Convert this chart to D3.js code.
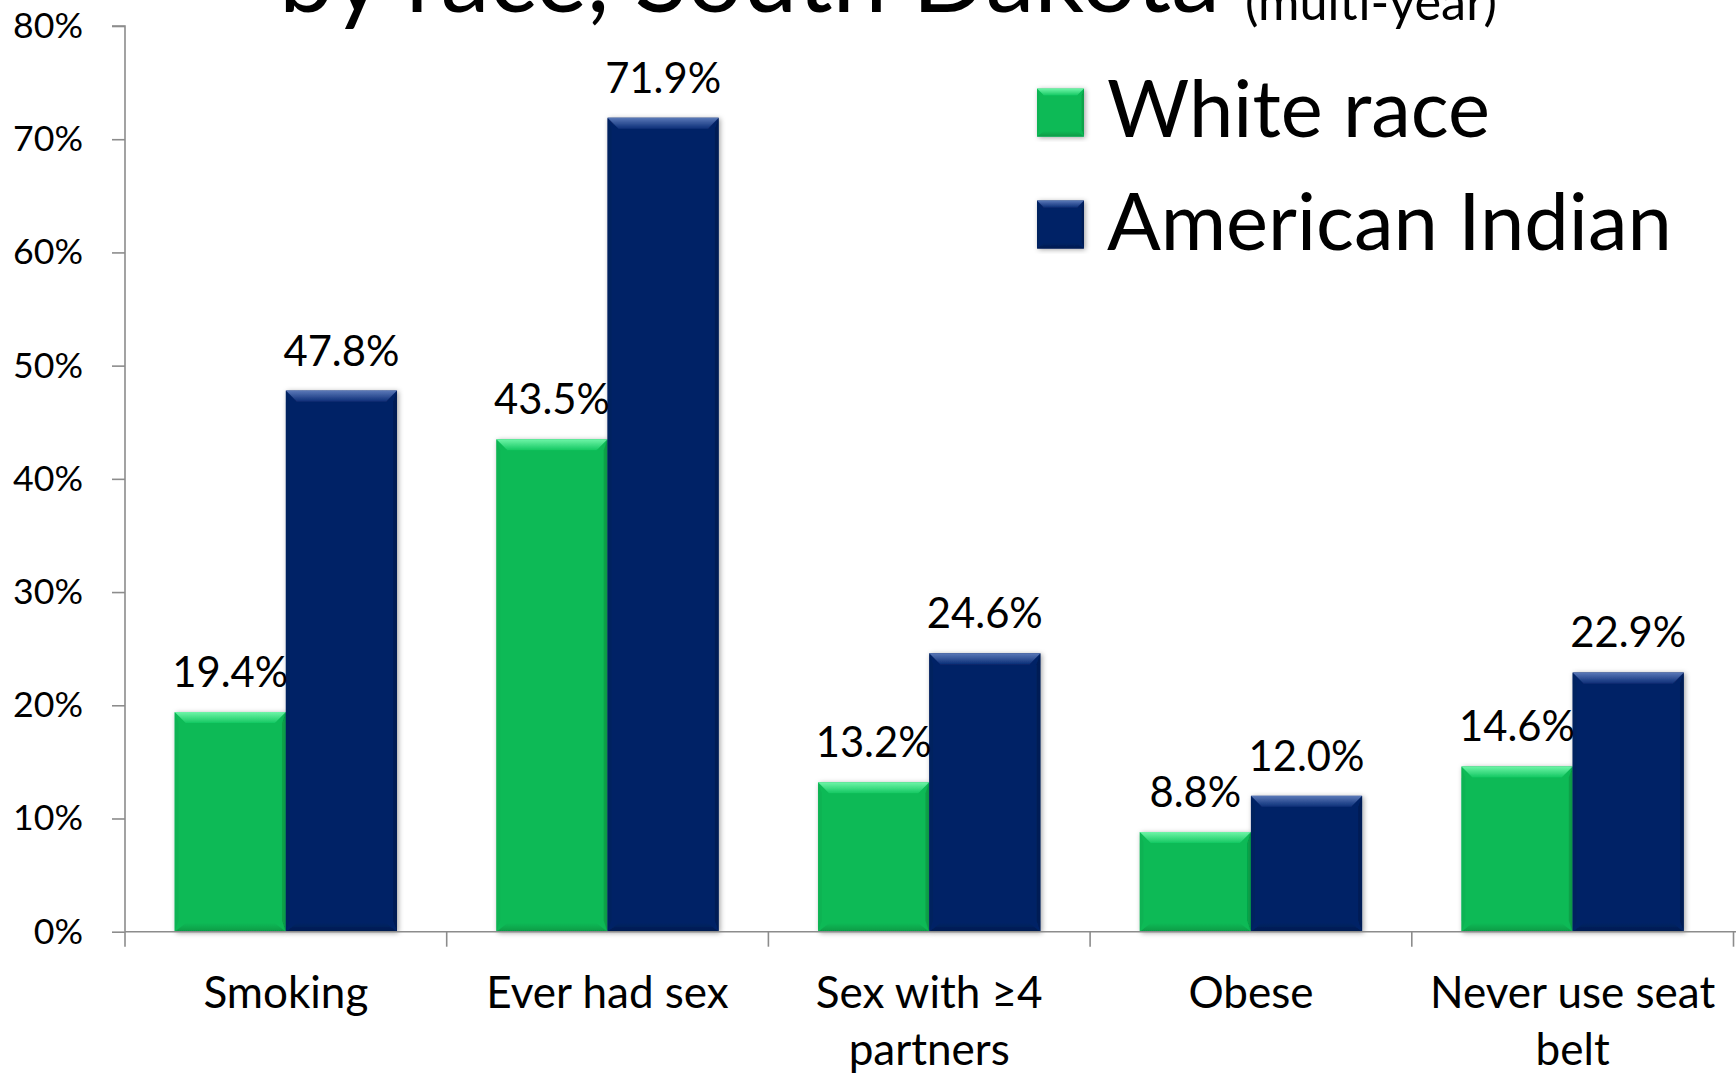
<!DOCTYPE html>
<html><head><meta charset="utf-8">
<script src="https://cdn.jsdelivr.net/npm/d3@7"></script>
<style>
body{margin:0;background:#fff;}
svg{display:block;}
text{font-family:Lato,"Open Sans",sans-serif;fill:#000;}
</style>
</head><body>
<svg id="chart" width="1736" height="1076"></svg>
<script>
// ---------- data ----------
const categories = ["Smoking", "Ever had sex", "Sex with ≥4 partners", "Obese", "Never use seat belt"];
const categoryLines = [["Smoking"], ["Ever had sex"], ["Sex with ≥4", "partners"], ["Obese"], ["Never use seat", "belt"]];
const seriesNames = ["White race", "American Indian"];
const whiteRace = [19.4, 43.5, 13.2, 8.8, 14.6];
const americanIndian = [47.8, 71.9, 24.6, 12.0, 22.9];
const yTicks = [0, 10, 20, 30, 40, 50, 60, 70, 80];
const titleText = "by race, South Dakota";
const subtitleText = "(multi-year)";

// ---------- styles ----------
const palette = {
  "White race": {base: "#0aba56", hi: "#6ff5a8", mid: "#14c862", lo: "#069a46", side: "#0bb152"},
  "American Indian": {base: "#062466", hi: "#5b79b8", mid: "#0c2f78", lo: "#031a4e", side: "#05215d"}
};
const axisColor = "#8c8c8c";

const svg = d3.select("#chart");
const defs = svg.append("defs");

function fitSize(str, target) {
  const t = svg.append("text").attr("font-size", 100).text(str);
  const w = t.node().getComputedTextLength();
  t.remove();
  return 100 * target / w;
}

// gradients
seriesNames.forEach((s, i) => {
  const c = palette[s];
  const g = defs.append("linearGradient").attr("id", "top" + i).attr("x1", 0).attr("y1", 0).attr("x2", 0).attr("y2", 1);
  g.append("stop").attr("offset", 0).attr("stop-color", c.hi);
  g.append("stop").attr("offset", 1).attr("stop-color", c.mid);
  const gb = defs.append("linearGradient").attr("id", "bot" + i).attr("x1", 0).attr("y1", 0).attr("x2", 0).attr("y2", 1);
  gb.append("stop").attr("offset", 0).attr("stop-color", c.base);
  gb.append("stop").attr("offset", 1).attr("stop-color", c.lo);
});
const sh = defs.append("filter").attr("id", "shadow").attr("x", "-20%").attr("y", "-10%").attr("width", "140%").attr("height", "120%");
sh.append("feDropShadow").attr("dx", 1.5).attr("dy", 1).attr("stdDeviation", 2.5).attr("flood-color", "#000").attr("flood-opacity", 0.35);

// ---------- scales ----------
const x0 = d3.scaleBand().domain(categories).range([125, 1733.5]).paddingInner(0).paddingOuter(0);
const x1 = d3.scaleBand().domain(seriesNames).range([0, x0.bandwidth()]).paddingInner(0).paddingOuter(0.447);
const y = d3.scaleLinear().domain([0, 80]).range([931.7, 26]);

// ---------- bevel bar ----------
function bevelBar(g, x, yTop, w, h, si, b) {
  const c = palette[seriesNames[si]];
  const bb = Math.min(b, h / 2, w / 2);
  const gg = g.append("g").attr("filter", "url(#shadow)");
  gg.append("rect").attr("x", x).attr("y", yTop).attr("width", w).attr("height", h).attr("fill", c.base);
  gg.append("polygon").attr("points", [[x, yTop], [x + bb * 0.35, yTop + bb], [x + bb * 0.35, yTop + h - bb], [x, yTop + h]].join(" "))
    .attr("fill", c.side).attr("opacity", 0.8);
  gg.append("polygon").attr("points", [[x + w, yTop], [x + w - bb * 0.35, yTop + bb], [x + w - bb * 0.35, yTop + h - bb], [x + w, yTop + h]].join(" "))
    .attr("fill", c.lo).attr("opacity", 0.7);
  gg.append("polygon").attr("points", [[x, yTop + h], [x + w, yTop + h], [x + w - bb, yTop + h - bb * 0.8], [x + bb, yTop + h - bb * 0.8]].join(" "))
    .attr("fill", "url(#bot" + si + ")");
  gg.append("polygon").attr("points", [[x, yTop], [x + w, yTop], [x + w - bb, yTop + bb], [x + bb, yTop + bb]].join(" "))
    .attr("fill", "url(#top" + si + ")");
}

// ---------- title ----------
svg.append("text").attr("x", 279).attr("y", 12)
  .attr("font-size", fitSize(titleText, 941)).text(titleText);
svg.append("text").attr("x", 1245).attr("y", 20)
  .attr("font-size", fitSize(subtitleText, 252)).text(subtitleText);

// ---------- y axis ----------
const tickFont = fitSize("80%", 70);
const yAxis = svg.append("g").attr("transform", "translate(125,0)")
  .call(d3.axisLeft(y).tickValues(yTicks).tickSize(13).tickPadding(29).tickFormat(d => d + "%"));
yAxis.selectAll("path,line").attr("stroke", axisColor).attr("stroke-width", 1.6);
yAxis.select(".domain").attr("d", `M-13,${y(80)}H0V${y(0)}`);
yAxis.selectAll("text").attr("font-size", tickFont).attr("font-family", "Lato").attr("fill", "#000");

// ---------- bars ----------
const seriesValues = [whiteRace, americanIndian];
const barsG = svg.append("g");
categories.forEach((cat, ci) => {
  seriesNames.forEach((s, si) => {
    const v = seriesValues[si][ci];
    const bx = x0(cat) + x1(s);
    bevelBar(barsG, bx, y(v), x1.bandwidth(), y(0) - y(v), si, 11);
  });
});

// ---------- x axis ----------
const xAxisG = svg.append("g");
xAxisG.append("line").attr("x1", 125).attr("x2", 1736).attr("y1", y(0)).attr("y2", y(0))
  .attr("stroke", axisColor).attr("stroke-width", 1.6);
const bounds = categories.map(c => x0(c)).concat([x0(categories[categories.length - 1]) + x0.bandwidth()]);
xAxisG.selectAll("line.tick").data(bounds).enter().append("line").attr("class", "tick")
  .attr("x1", d => d).attr("x2", d => d).attr("y1", y(0)).attr("y2", y(0) + 15)
  .attr("stroke", axisColor).attr("stroke-width", 1.6);

const catFont = fitSize("Smoking", 165);
categories.forEach((cat, ci) => {
  const t = svg.append("text").attr("text-anchor", "middle").attr("font-size", catFont)
    .attr("x", x0(cat) + x0.bandwidth() / 2).attr("y", 1008);
  categoryLines[ci].forEach((ln, li) => {
    t.append("tspan").attr("x", x0(cat) + x0.bandwidth() / 2).attr("dy", li === 0 ? 0 : 57).text(ln);
  });
});

// ---------- data labels ----------
const labelFont = fitSize("47.8%", 116);
categories.forEach((cat, ci) => {
  seriesNames.forEach((s, si) => {
    const v = seriesValues[si][ci];
    svg.append("text").attr("text-anchor", "middle").attr("font-size", labelFont)
      .attr("x", x0(cat) + x1(s) + x1.bandwidth() / 2).attr("y", y(v) - 25)
      .text(v.toFixed(1) + "%");
  });
});

// ---------- legend ----------
const legFont = fitSize("American Indian", 565);
const legendY = [88.6, 200.5];
const legendBaselines = [137, 250];
seriesNames.forEach((s, si) => {
  bevelBar(svg, 1037, legendY[si], 47, 48, si, 7);
  svg.append("text").attr("x", 1107).attr("y", legendBaselines[si]).attr("font-size", legFont).text(s);
});
</script>
</body></html>
